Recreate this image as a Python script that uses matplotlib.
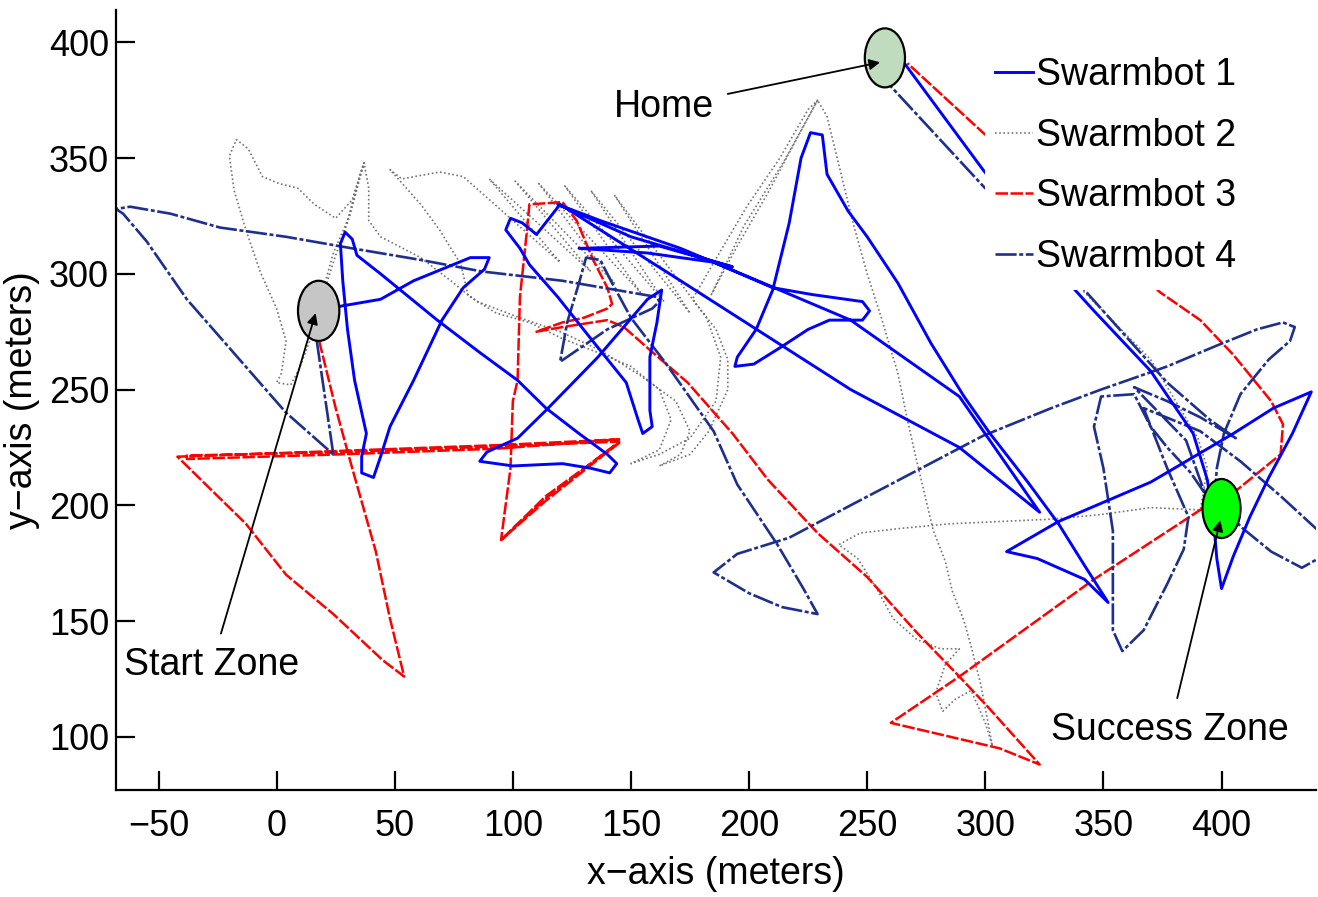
import matplotlib
matplotlib.use('Agg')
import matplotlib.pyplot as plt
from matplotlib import font_manager
from matplotlib.patches import Ellipse, Rectangle

# narrow sans if present, otherwise the normal one
names = {f.name for f in font_manager.fontManager.ttflist}
face = 'Liberation Sans Narrow' if 'Liberation Sans Narrow' in names else 'Liberation Sans'
plt.rcParams['font.family'] = [face, 'DejaVu Sans']

# ---- tracks (metres) ----
bot1_x = [27, 44, 58, 82, 90, 88, 79, 70, 58, 48, 44, 41, 36, 36, 38, 33, 30, 28, 27, 29, 32, 34, 44, 68,
          86, 102, 114, 128, 140, 144, 141, 133, 121, 100, 86, 89, 102, 114, 136, 157, 163, 161, 158, 158,
          159, 155, 153, 148, 133, 119, 107, 103, 97, 99, 104, 110, 120, 171, 243, 289, 323, 289, 243, 206,
          171, 137, 119, 150, 193, 162, 128, 157, 185, 210, 227, 248, 251, 248, 234, 225, 213, 202, 194, 195,
          203, 210, 217, 222, 226, 231, 233, 242, 250, 263, 277, 291, 302, 318, 331, 342, 352, 342, 322, 309,
          331, 370, 405, 422, 438, 430, 420, 412, 405, 400, 398, 397, 394, 388, 370, 346, 338, 319, 299, 265]
bot1_y = [286, 289, 297, 307, 307, 302, 294, 280, 254, 234, 221, 212, 214, 221, 231, 254, 276, 297, 313,
          318, 315, 308, 300, 280, 266, 254, 242, 231, 222, 218, 214, 216, 218, 217, 219, 223, 229, 241,
          264, 289, 293, 279, 264, 241, 234, 231, 237, 253, 272, 290, 304, 311, 319, 324, 322, 317, 330,
          297, 250, 225, 197, 247, 280, 296, 311, 323, 330, 316, 303, 312, 311, 309, 305, 294, 291, 288,
          284, 280, 280, 276, 268, 261, 260, 264, 276, 293, 322, 350, 361, 360, 343, 327, 316, 296, 270,
          247, 231, 210, 192, 174, 158, 168, 177, 180, 193, 210, 231, 242, 249, 231, 212, 195, 178, 164,
          177, 189, 211, 231, 258, 284, 293, 319, 345, 392]

bot2_x = [21, 24, 30, 35, 37, 32, 25, 16, 9, 1, -6, -12, -17, -20, -18, -13, -7, 0, 4, 2, 0, 6, 10, 14,
          19, 25, 31, 37, 39, 39, 44, 61, 75, 82, 93, 107, 121, 136, 150, 162, 167, 162, 150, 162, 175,
          186, 188, 182, 143, 175, 133, 164, 122, 154, 111, 143, 101, 133, 90, 120, 79, 69, 53, 48, 61,
          69, 78, 81, 85, 103, 120, 137, 154, 169, 175, 171, 162, 175, 183, 191, 191, 186, 176, 188, 199,
          213, 225, 229, 220, 208, 195, 184, 198, 215, 229, 233, 239, 244, 250, 256, 263, 267, 271, 278,
          283, 286, 291, 294, 298, 301, 303, 300, 294, 287, 282, 279, 283, 289, 281, 271, 261, 254, 246,
          238, 247, 264, 285, 306, 328, 349, 370, 391, 394, 390, 370, 342, 323]
bot2_y = [298, 309, 323, 342, 348, 332, 324, 330, 337, 339, 342, 354, 358, 351, 336, 319, 301, 285, 271,
          257, 253, 252, 260, 271, 289, 308, 325, 348, 337, 323, 316, 307, 296, 290, 283, 279, 272, 266,
          260, 250, 237, 224, 218, 222, 229, 245, 264, 281, 334, 283, 336, 288, 338, 292, 339, 296, 340,
          301, 341, 305, 342, 344, 341, 345, 330, 319, 304, 291, 288, 281, 275, 267, 256, 245, 232, 222,
          217, 222, 232, 250, 263, 276, 289, 310, 329, 350, 371, 375, 358, 335, 312, 291, 321, 349, 375,
          368, 343, 322, 300, 281, 257, 237, 219, 189, 176, 163, 150, 139, 123, 107, 96, 106, 120, 116,
          111, 119, 131, 138, 138, 142, 151, 164, 177, 183, 188, 190, 192, 193, 194, 196, 199, 198, 216,
          229, 263, 292, 312]

bot3_x = [18, 25, 32, 42, 48, 54, 45, 24, 4, -13, -33, -42, 27, 94, 145, 94, 27, -38, -38, 27, 94, 145,
          114, 95, 114, 145, 114, 95, 99, 100, 102, 103, 106, 107, 121, 127, 134, 140, 142, 140, 130, 121,
          110, 121, 140, 147, 157, 174, 193, 208, 229, 250, 271, 289, 301, 323, 306, 260, 289, 346, 391,
          407, 425, 426, 421, 405, 391, 374, 332, 299, 267]
bot3_y = [271, 242, 216, 180, 151, 126, 133, 153, 170, 192, 212, 221, 223.5, 226, 228.5, 224.5, 222, 220,
          221.5, 223, 225.5, 227.5, 203, 185, 204, 227, 202, 185, 216, 245, 254, 290, 319, 330, 331, 323,
          306, 294, 287, 285, 281, 279, 275, 277, 280, 277, 268, 253, 231, 211, 188, 169, 145, 126, 113,
          88, 95, 106, 126, 168, 198, 207, 222, 235, 245, 265, 280, 292, 332, 361, 391]

bot4_x = [17, 24, 4, -20, -38, -55, -65, -68, -62, -45, -24, 4, 32, 61, 87, 121, 161, 162, 159, 140,
          120, 123, 128, 131, 137, 142, 150, 165, 185, 195, 212, 223, 229, 214, 200, 185, 195, 217, 243,
          271, 299, 328, 349, 363, 377, 398, 415, 426, 431, 429, 420, 408, 401, 398, 397, 409, 421, 434,
          441, 448, 441, 425, 408, 391, 367, 377, 386, 384, 377, 367, 358, 354, 354, 350, 346, 349, 363,
          370, 377, 387, 393, 385, 363, 377, 391, 406, 395, 377, 356, 342, 319, 299, 260]
bot4_y = [271, 222, 240, 268, 289, 314, 326, 328, 329, 326, 320, 316, 311, 306, 301, 297, 290, 288, 285,
          276, 262, 279, 296, 307, 306, 296, 281, 261, 232, 209, 183, 164, 153, 156, 162, 171, 179, 186,
          200, 215, 230, 242, 250, 255, 260, 269, 276, 279, 277, 271, 263, 248, 231, 216, 202, 190, 180,
          173, 177, 185, 189, 204, 219, 232, 242, 216, 195, 181, 166, 146, 137, 146, 189, 216, 234, 247,
          248, 234, 225, 214, 205, 228, 251, 245, 238, 229, 237, 253, 277, 293, 317, 338, 381]

labels = ['Swarmbot 1', 'Swarmbot 2', 'Swarmbot 3', 'Swarmbot 4']

# zones: centre x, centre y, width, height
home_zone = (257.5, 393.3, 17, 25.5)
start_zone = (17.8, 284, 17.5, 26)
success_zone = (400, 198.6, 16.1, 25.5)

fig = plt.figure(figsize=(13.18, 8.97), dpi=100)
ax = fig.add_axes([0.088, 0.1193, 0.9105, 0.8696])

l2, = ax.plot(bot2_x, bot2_y, color='#767676', lw=1.2, ls=(0, (1, 1.5)), zorder=2)
l3, = ax.plot(bot3_x, bot3_y, color='#ff0000', lw=1.8, ls=(0, (5, 1)), zorder=2.4)
l4, = ax.plot(bot4_x, bot4_y, color='#1f2f8c', lw=1.9, ls=(0, (8, 1, 1.5, 1)), zorder=2.5)
l1, = ax.plot(bot1_x, bot1_y, color='#0000ff', lw=2.1, zorder=2.6)

for (cx, cy, w, h), fc in [(home_zone, '#bfdcbf'), (start_zone, '#c6c6c6'), (success_zone, '#00ff00')]:
    ax.add_patch(Ellipse((cx, cy), w, h, facecolor=fc, edgecolor='black', lw=1.6, zorder=4))

arrow = dict(arrowstyle='-|>', color='black', lw=1.3, mutation_scale=16, shrinkA=8, shrinkB=0)
ax.annotate('Home', xy=(255.5, 391.4), xytext=(164, 372), fontsize=27,
            ha='center', va='center', arrowprops=arrow, zorder=5)
ax.annotate('Start Zone', xy=(16.5, 283), xytext=(-27.5, 131), fontsize=27,
            ha='center', va='center', arrowprops=arrow, zorder=5)
ax.annotate('Success Zone', xy=(399.5, 193.5), xytext=(378, 103), fontsize=27,
            ha='center', va='center', arrowprops=arrow, zorder=5)

ax.set_xlim(-68, 440)
ax.set_ylim(77, 414)
ax.set_xticks(range(-50, 401, 50))
ax.set_yticks(range(100, 401, 50))
ax.tick_params(direction='in', length=14, width=1.6, labelsize=26)
ax.tick_params(axis='x', pad=14)
ax.tick_params(axis='y', pad=5)
for side in ['top', 'right']:
    ax.spines[side].set_visible(False)
for side in ['left', 'bottom']:
    ax.spines[side].set_linewidth(1.6)

ax.set_xlabel('x\u2212axis (meters)', fontsize=27, labelpad=8)
ax.set_ylabel('y\u2212axis (meters)', fontsize=27, labelpad=6)

# white backing behind the legend entries, hides the tracks under it
ax.add_patch(Rectangle((0.724, 0.641), 0.28, 0.33, transform=ax.transAxes,
                       facecolor='white', edgecolor='none', zorder=5, clip_on=False))
leg = ax.legend([l1, l2, l3, l4], labels, loc='upper left',
                bbox_to_anchor=(995 / 1318, 1 - 57 / 897), bbox_transform=fig.transFigure,
                frameon=False, fontsize=27, handlelength=1.0, handletextpad=0.1,
                labelspacing=0.66, borderpad=0, borderaxespad=0)
leg.set_zorder(6)

fig.savefig('out.png', dpi=100)
